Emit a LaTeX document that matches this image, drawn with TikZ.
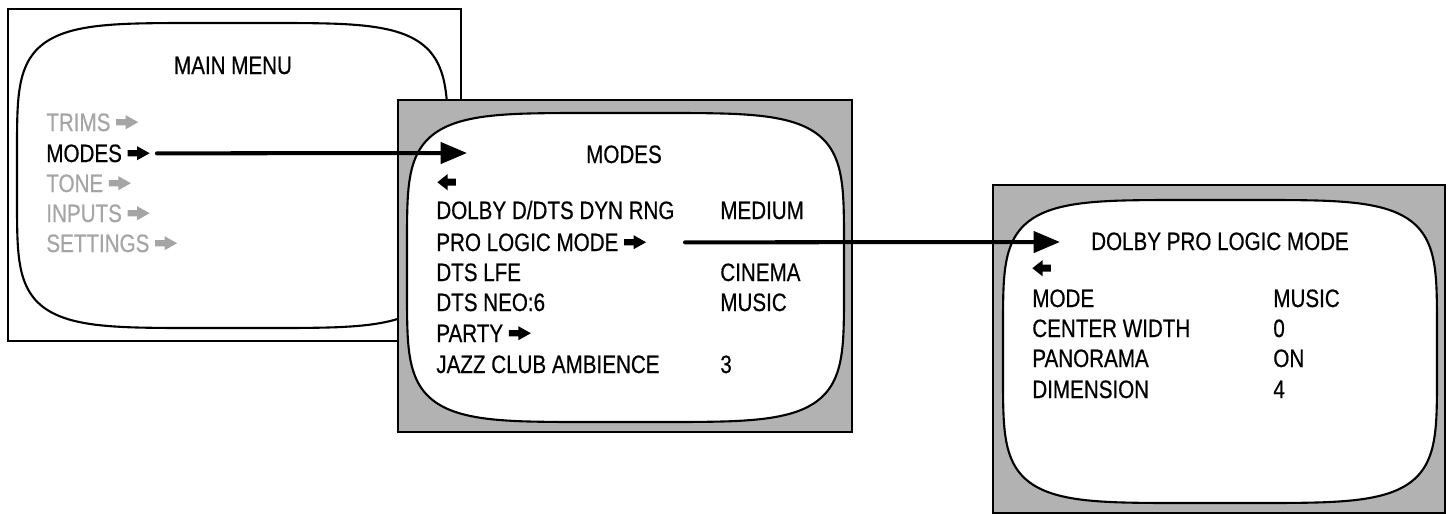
\documentclass[tikz,border=0pt]{standalone}
\usepackage{fontspec}
\setmainfont{Liberation Sans}[FakeStretch=0.82,FakeBold=0.5]
\usepackage{tikz}
\usetikzlibrary{arrows.meta}
\definecolor{menugray}{RGB}{165,165,165}
\definecolor{panelgray}{RGB}{178,178,178}
\tikzset{
  txt/.style={anchor=base west,inner sep=0pt,font=\fontsize{14.3}{17}\selectfont},
  frame/.style={draw,line width=1.2pt},
  screen/.style={draw,fill=white,line width=1.2pt},
  link/.style={line width=2.3pt,line cap=round,-{Triangle[length=15pt,width=12pt]}}
}
\newcommand{\rarr}[1][black]{\tikz[baseline=-5pt,x=1pt,y=1pt]\fill[#1] (0,-1.8)--(5.4,-1.8)--(5.4,-4)--(12.5,0)--(5.4,4)--(5.4,1.8)--(0,1.8)--cycle;}
\newcommand{\larr}{\tikz[baseline=-5pt,x=1pt,y=1pt]\fill (10.5,-2)--(5.8,-2)--(5.8,-4.6)--(0,0)--(5.8,4.6)--(5.8,2)--(10.5,2)--cycle;}
\newcommand{\tvscreen}[4]{\draw[screen] plot[domain=1:359,samples=180] ({#1+#3*sign(cos(\x))*pow(abs(cos(\x)),0.4)},{#2+#4*sign(sin(\x))*pow(abs(sin(\x)),0.4)}) -- cycle;}
\begin{document}
\begin{tikzpicture}[x=0.02cm,y=-0.02cm]
\useasboundingbox (0,0) rectangle (1448,514);

\draw[frame,fill=white] (8,9) rectangle (461,341);
\tvscreen{232.5}{175.5}{215.5}{152.5}
\node[txt,anchor=base] (mainmenu) at (233,74) {MAIN MENU};
\node[txt,text=menugray] (trims) at (46,131) {TRIMS \rarr[menugray]};
\node[txt] (modes) at (46,162) {MODES \rarr};
\node[txt,text=menugray] (tone) at (46,192) {TONE \rarr[menugray]};
\node[txt,text=menugray] (inputs) at (46,222) {INPUTS \rarr[menugray]};
\node[txt,text=menugray] (settings) at (46,252) {SETTINGS \rarr[menugray]};

\draw[frame,fill=panelgray] (398,100) rectangle (852,432);
\tvscreen{625.5}{267.5}{218.5}{154.5}
\coordinate (modesin) at (467,153);
\node[txt,anchor=base] (modestitle) at (624,163) {MODES};
\node[txt] (modesback) at (437,191) {\larr};
\node[txt] (dynrng) at (436,219) {DOLBY D/DTS DYN RNG};
\node[txt] (prologic) at (436,251) {PRO LOGIC MODE \rarr};
\node[txt] (dtslfe) at (436,281) {DTS LFE};
\node[txt] (dtsneo) at (436,311) {DTS NEO:6};
\node[txt] (party) at (436,342) {PARTY \rarr};
\node[txt] (jazz) at (436,373) {JAZZ CLUB AMBIENCE};
\node[txt] (dynrngval) at (720,219) {MEDIUM};
\node[txt] (dtslfeval) at (720,281) {CINEMA};
\node[txt] (dtsneoval) at (720,311) {MUSIC};
\node[txt] (jazzval) at (720,373) {3};

\draw[frame,fill=panelgray] (993,185) rectangle (1445,513);
\tvscreen{1220}{351.5}{217}{151.5}
\coordinate (dplmin) at (1060,242);
\node[txt,anchor=base] (dpltitle) at (1220,250) {DOLBY PRO LOGIC MODE};
\node[txt] (dplback) at (1032,277) {\larr};
\node[txt] (mode) at (1032,307) {MODE};
\node[txt] (center) at (1032,337) {CENTER WIDTH};
\node[txt] (panorama) at (1032,367) {PANORAMA};
\node[txt] (dimension) at (1032,398) {DIMENSION};
\node[txt] (modeval) at (1273,307) {MUSIC};
\node[txt] (centerval) at (1273,337) {0};
\node[txt] (panoramaval) at (1273,367) {ON};
\node[txt] (dimensionval) at (1273,398) {4};

\draw[link] ([xshift=4pt]modes.east) -- (modesin);
\draw[link] ([xshift=22pt]prologic.east) -- (dplmin);
\end{tikzpicture}
\end{document}
